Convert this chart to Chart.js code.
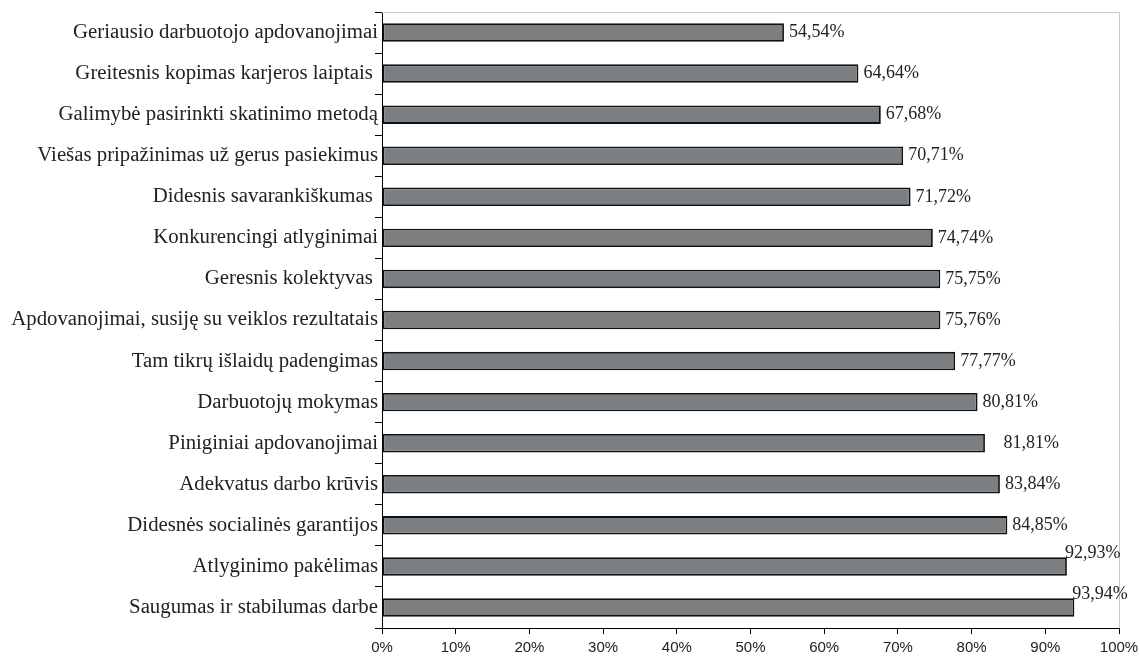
<!DOCTYPE html>
<html>
<head>
<meta charset="utf-8">
<script src="https://cdn.jsdelivr.net/npm/chart.js@4"></script>
<style>
  body { margin: 0; background: #fff; }
  #wrap { width: 1140px; height: 659px; position: relative; }
</style>
</head>
<body>
<div id="wrap"><canvas id="chart_1"></canvas></div>
<script>
const categories = [
  "Geriausio darbuotojo apdovanojimai",
  "Greitesnis kopimas karjeros laiptais ",
  "Galimybė pasirinkti skatinimo metodą",
  "Viešas pripažinimas už gerus pasiekimus",
  "Didesnis savarankiškumas ",
  "Konkurencingi atlyginimai",
  "Geresnis kolektyvas ",
  "Apdovanojimai, susiję su veiklos rezultatais",
  "Tam tikrų išlaidų padengimas",
  "Darbuotojų mokymas",
  "Piniginiai apdovanojimai",
  "Adekvatus darbo krūvis",
  "Didesnės socialinės garantijos",
  "Atlyginimo pakėlimas",
  "Saugumas ir stabilumas darbe"
];
const values = [54.54, 64.64, 67.68, 70.71, 71.72, 74.74, 75.75, 75.76, 77.77, 80.81, 81.81, 83.84, 84.85, 92.93, 93.94];
const valueLabels = ["54,54%", "64,64%", "67,68%", "70,71%", "71,72%", "74,74%", "75,75%", "75,76%",
  "77,77%", "80,81%", "   81,81%", "83,84%", "84,85%", "92,93%", "93,94%"];
const xTicks = [0, 10, 20, 30, 40, 50, 60, 70, 80, 90, 100];

// frame on top/right + value labels
const extras = {
  id: "extras",
  afterDatasetsDraw(chart) {
    const { ctx, chartArea: a } = chart;
    ctx.save();
    ctx.strokeStyle = "#c8c8c8";
    ctx.lineWidth = 1;
    ctx.beginPath();
    ctx.moveTo(a.left, a.top + 0.5);
    ctx.lineTo(a.right + 0.5, a.top + 0.5);
    ctx.lineTo(a.right + 0.5, a.bottom);
    ctx.stroke();

    ctx.font = "18px 'Liberation Serif'";
    ctx.fillStyle = "#222";
    ctx.textBaseline = "middle";
    const meta = chart.getDatasetMeta(0);
    meta.data.forEach((bar, i) => {
      const txt = valueLabels[i];
      const w = ctx.measureText(txt).width;
      let x = bar.x + 5;
      let y = bar.y;
      if (x + w > a.right) {
        x = bar.x - 2;
        y = bar.y - 13;
      }
      ctx.fillText(txt, x, y);
    });
    ctx.restore();
  }
};

new Chart(document.getElementById("chart_1"), {
  type: "bar",
  data: {
    labels: categories,
    datasets: [{
      data: values,
      backgroundColor: "#7b7f82",
      borderColor: "#111",
      borderWidth: 1.8,
      borderSkipped: false,
      barPercentage: 0.45,
      categoryPercentage: 1
    }]
  },
  options: {
    indexAxis: "y",
    responsive: true,
    maintainAspectRatio: false,
    animation: false,
    layout: { padding: { left: 0, top: 12, right: 21, bottom: 0 } },
    plugins: { legend: { display: false }, tooltip: { enabled: false } },
    scales: {
      x: {
        min: 0,
        max: 100,
        afterBuildTicks: (s) => { s.ticks = xTicks.map(v => ({ value: v })); },
        afterFit: (s) => { s.height = 31; s.paddingLeft = 0; s.paddingRight = 0; },
        border: { color: "#000", width: 1 },
        grid: { drawOnChartArea: false, tickLength: 6, color: "#000" },
        ticks: {
          padding: 5,
          color: "#222",
          font: { family: "'Liberation Sans'", size: 15 },
          callback: (v) => v + "%"
        }
      },
      y: {
        afterFit: (s) => { s.width = 382; s.paddingTop = 0; s.paddingBottom = 0; },
        border: { color: "#000", width: 1 },
        grid: { drawOnChartArea: false, tickLength: 7, color: "#000", offset: true },
        ticks: {
          padding: -3,
          color: "#222",
          font: { family: "'Liberation Serif'", size: 20.8 }
        }
      }
    }
  },
  plugins: [extras]
});
</script>
</body>
</html>
